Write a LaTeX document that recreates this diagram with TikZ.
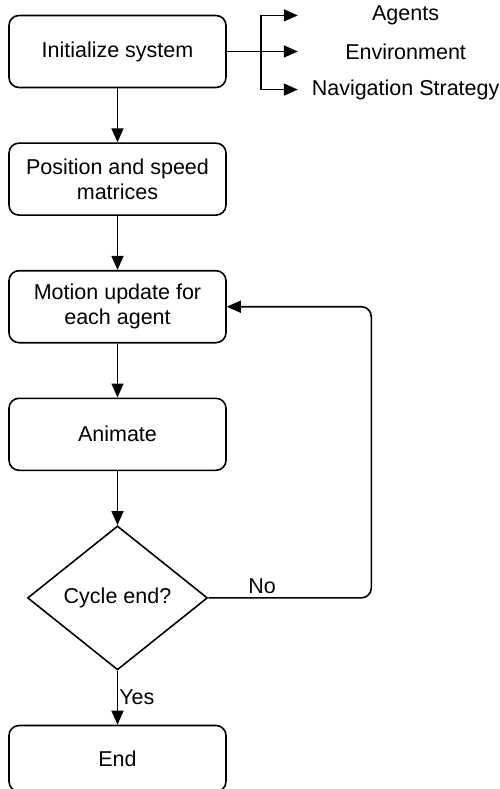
\documentclass[tikz,border=0pt]{standalone}
\usepackage{fontspec}
\setmainfont{Liberation Sans}
\usetikzlibrary{positioning,shapes.geometric,arrows.meta}

\tikzset{
  stepbox/.style={draw, rounded corners=10pt, minimum width=217pt,
    minimum height=72pt, align=center},
  decision/.style={draw, diamond, aspect=1.25, inner sep=0pt,
    minimum width=180pt, minimum height=144pt},
  lbl/.style={minimum width=214pt, minimum height=36.5pt, inner sep=0pt}
}

\begin{document}
\begin{tikzpicture}[font=\fontsize{21.5}{25}\selectfont, node distance=54pt,
    line width=1.6pt, >={Triangle[length=14pt,width=12pt]}]
  \useasboundingbox (0,0) rectangle (500pt,-789pt);

  \node[stepbox] (init) at (117.5pt,-51.5pt) {Initialize system};
  \node[stepbox, below=of init] (matrices) {Position and speed\\matrices};
  \node[stepbox, below=of matrices] (motion) {Motion update for\\each agent};
  \node[stepbox, below=of motion] (animate) {Animate};
  \node[decision, below=of animate] (cycle) {Cycle end?};
  \node[stepbox, below=of cycle, minimum height=66pt] (finish) {End};

  % what gets initialized
  \node[lbl, right=71pt of init] (env) {Environment};
  \node[lbl, above=0pt of env, yshift=-2pt] (agents) {Agents};
  \node[lbl, below=0pt of env] (nav) {Navigation Strategy};
  \path (init.east) ++(34pt,0) coordinate (fork);
  \draw[->] (init.east) -- (env.west);
  \draw[->] (fork) |- (agents.west);
  \draw[->] (fork) |- (nav.west);

  \foreach \a/\b in {init/matrices, matrices/motion, motion/animate, animate/cycle}
    \draw[->] (\a) -- (\b);

  \draw[->, rounded corners=10pt] (cycle.east) -- ++(163pt,0)
    node[pos=0.33, above] {No} |- (motion.east);
  \draw[->] (cycle.south) -- node[right, inner sep=1pt] {Yes} (finish.north);
\end{tikzpicture}
\end{document}
